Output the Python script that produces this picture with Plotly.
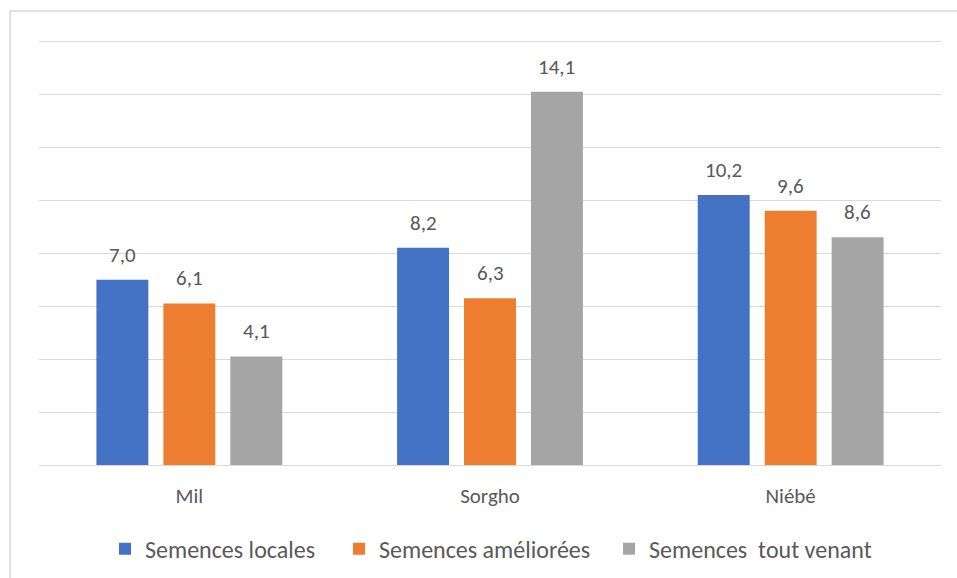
import plotly.graph_objects as go

# Rendement par culture et par type de semences
cultures = ["Mil", "Sorgho", "Niébé"]
series_names = ["Semences locales", "Semences améliorées", "Semences  tout venant"]
semences_locales = [7.0, 8.2, 10.2]
semences_ameliorees = [6.1, 6.3, 9.6]
semences_tout_venant = [4.1, 14.1, 8.6]
series_values = [semences_locales, semences_ameliorees, semences_tout_venant]
colors = ["#4472C4", "#ED7D31", "#A5A5A5"]

FONT = "Calibri, Carlito, Lato, sans-serif"
TEXT_COLOR = "#595959"
GRID = "#D9D9D9"
BARGAP = 0.332
BARGROUPGAP = 0.224

# one legend box per series so the entries can be spaced freely
legend_ids = ["legend", "legend2", "legend3"]
legend_x = [0.0732, 0.3326, 0.632]

fig = go.Figure()
for name, vals, col, lid in zip(series_names, series_values, colors, legend_ids):
    fig.add_trace(go.Bar(
        name=name, x=cultures, y=vals, marker_color=col,
        marker_line_width=0, legend=lid,
    ))

# value labels above each bar
n = len(series_values)
slot = (1 - BARGAP) / n
annotations = []
for i, vals in enumerate(series_values):
    offset = (i - (n - 1) / 2) * slot
    for j, v in enumerate(vals):
        annotations.append(dict(
            x=j + offset, y=v, xref="x", yref="y",
            text=f"{v:.1f}".replace(".", ","),
            showarrow=False, yanchor="middle", yshift=25,
            font=dict(family=FONT, size=21, color=TEXT_COLOR),
        ))

legend_style = dict(
    orientation="h", xanchor="left", y=-0.198, yanchor="middle",
    font=dict(family=FONT, size=24, color=TEXT_COLOR),
    itemwidth=30, bgcolor="rgba(0,0,0,0)",
)

fig.update_layout(
    width=957, height=578,
    margin=dict(l=39, r=16, t=40, b=113, autoexpand=False),
    paper_bgcolor="white", plot_bgcolor="white",
    barmode="group", bargap=BARGAP, bargroupgap=BARGROUPGAP,
    separators=", ",
    font=dict(family=FONT, size=21, color=TEXT_COLOR),
    showlegend=True,
    legend=dict(x=legend_x[0], **legend_style),
    legend2=dict(x=legend_x[1], **legend_style),
    legend3=dict(x=legend_x[2], **legend_style),
    annotations=annotations,
    shapes=[dict(
        type="rect", xref="paper", yref="paper",
        x0=-0.032, x1=1.2, y0=-0.5, y1=1.068,
        line=dict(color=GRID, width=1.5), layer="below",
    )],
)
fig.update_xaxes(
    showgrid=False, showline=True, linecolor=GRID, linewidth=1,
    ticks="", ticklabelstandoff=12,
    tickfont=dict(family=FONT, size=21, color=TEXT_COLOR),
)
fig.update_yaxes(
    range=[0, 16.05], dtick=2, showgrid=True, gridcolor=GRID, gridwidth=1,
    showticklabels=False, zeroline=False, showline=False,
)

fig.write_html("out.html")
